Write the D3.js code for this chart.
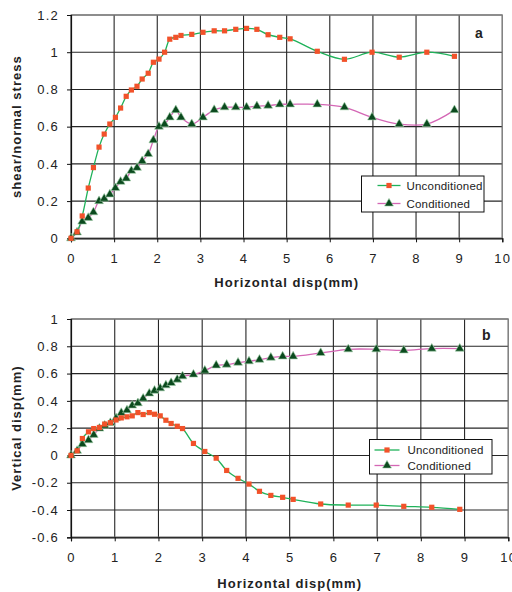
<!DOCTYPE html>
<html>
<head>
<meta charset="utf-8">
<script src="https://cdn.jsdelivr.net/npm/d3@7/dist/d3.min.js"></script>
<style>
  html, body { margin: 0; padding: 0; background: #fff; }
  svg { display: block; font-family: "Liberation Sans", Arial, sans-serif; }
</style>
</head>
<body>
<svg id="fig" width="512" height="592"></svg>
<script>
// Horizontal displacement (mm), shared by all four series
const horizDisp = [0, 0.14, 0.26, 0.40, 0.52, 0.65, 0.77, 0.90, 1.03, 1.15, 1.28, 1.40, 1.53, 1.65, 1.79, 1.91,
  2.04, 2.17, 2.29, 2.43, 2.55, 2.80, 3.06, 3.32, 3.56, 3.82, 4.07, 4.31, 4.57, 4.84, 5.08, 5.71, 6.34,
  6.98, 7.61, 8.25, 8.89];

// Panel a: shear/normal stress ratio
const stressUncond = [0, 0.035, 0.12, 0.27, 0.38, 0.49, 0.56, 0.614, 0.65, 0.70, 0.763, 0.797, 0.817, 0.856,
  0.887, 0.946, 0.963, 1.0, 1.07, 1.08, 1.09, 1.096, 1.107, 1.115, 1.115, 1.123, 1.128, 1.123, 1.094,
  1.08, 1.072, 1.005, 0.962, 1.0, 0.973, 1.0, 0.978];
const stressCond = [0, 0.032, 0.09, 0.11, 0.14, 0.20, 0.213, 0.236, 0.27, 0.304, 0.322, 0.363, 0.379, 0.415,
  0.453, 0.527, 0.60, 0.613, 0.65, 0.689, 0.65, 0.614, 0.65, 0.69, 0.704, 0.704, 0.704, 0.71, 0.713,
  0.72, 0.72, 0.72, 0.704, 0.65, 0.614, 0.614, 0.689];

// Panel b: vertical displacement (mm)
const vertUncond = [0, 0.034, 0.124, 0.173, 0.197, 0.205, 0.23, 0.24, 0.26, 0.275, 0.283, 0.29, 0.314, 0.30,
  0.314, 0.302, 0.29, 0.258, 0.234, 0.214, 0.197, 0.088, 0.029, -0.02, -0.11, -0.168, -0.21, -0.263,
  -0.293, -0.307, -0.322, -0.356, -0.364, -0.364, -0.373, -0.38, -0.395];
const vertCond = [0, 0.034, 0.083, 0.112, 0.151, 0.197, 0.219, 0.238, 0.273, 0.312, 0.331, 0.366, 0.383,
  0.417, 0.454, 0.475, 0.492, 0.514, 0.531, 0.556, 0.58, 0.593, 0.622, 0.66, 0.666, 0.68, 0.69, 0.702,
  0.717, 0.726, 0.726, 0.751, 0.778, 0.778, 0.77, 0.783, 0.783];

// Tick values and labels
const xTicks = [0, 1, 2, 3, 4, 5, 6, 7, 8, 9, 10];
const xTickLabels = ["0", "1", "2", "3", "4", "5", "6", "7", "8", "9", "10"];
const yTicksA = [0, 0.2, 0.4, 0.6, 0.8, 1, 1.2];
const yTickLabelsA = ["0", "0.2", "0.4", "0.6", "0.8", "1", "1.2"];
const yTicksB = [-0.6, -0.4, -0.2, 0, 0.2, 0.4, 0.6, 0.8, 1];
const yTickLabelsB = ["-0.6", "-0.4", "-0.2", "0", "0.2", "0.4", "0.6", "0.8", "1"];

const seriesNames = ["Unconditioned", "Conditioned"];

const COL = {
  uncondLine: "#1fb25a",
  uncondMark: "#f2522a",
  condLine: "#d467b5",
  condMark: "#0b4a1e",
  grid: "#262626",
  frame: "#8a8a8a"
};

const svg = d3.select("#fig");
svg.append("rect").attr("width", 512).attr("height", 592).attr("fill", "#fff");

function panel(opts) {
  const x = d3.scaleLinear().domain([0, 10]).range([opts.left, opts.right]);
  const y = d3.scaleLinear().domain(opts.yDomain).range([opts.bottom, opts.top]);
  const g = svg.append("g");

  // grid
  g.append("g").selectAll("line.v").data(xTicks).join("line")
    .attr("x1", d => x(d)).attr("x2", d => x(d))
    .attr("y1", opts.top).attr("y2", opts.bottom)
    .attr("stroke", COL.grid).attr("stroke-width", 1.1);
  g.append("g").selectAll("line.h").data(opts.yTicks).join("line")
    .attr("x1", opts.left).attr("x2", opts.right)
    .attr("y1", d => y(d)).attr("y2", d => y(d))
    .attr("stroke", COL.grid).attr("stroke-width", 1.1);

  // frame
  g.append("rect")
    .attr("x", opts.left).attr("y", opts.top)
    .attr("width", opts.right - opts.left).attr("height", opts.bottom - opts.top)
    .attr("fill", "none").attr("stroke", COL.frame).attr("stroke-width", 1.2);

  // axes
  const xAxis = d3.axisBottom(x).tickValues(xTicks)
    .tickFormat((d, i) => xTickLabels[i]).tickSize(4).tickPadding(11);
  const ax = g.append("g").attr("transform", `translate(0,${opts.bottom})`).call(xAxis);
  const yAxis = d3.axisLeft(y).tickValues(opts.yTicks)
    .tickFormat((d, i) => opts.yTickLabels[i]).tickSize(4).tickPadding(8);
  const ay = g.append("g").attr("transform", `translate(${opts.left},0)`).call(yAxis);
  [ax, ay].forEach(a => {
    a.select(".domain").attr("stroke", "#111").attr("stroke-width", 1.2);
    a.selectAll(".tick line").attr("stroke", "#111");
    a.selectAll(".tick text").attr("fill", "#222")
      .style("font-size", "13px").style("letter-spacing", "1.2px");
  });

  // axis titles
  g.append("text")
    .attr("x", (opts.left + opts.right) / 2).attr("y", opts.bottom + opts.xTitleGap)
    .attr("text-anchor", "middle").attr("font-weight", "bold")
    .style("font-size", "13px").style("letter-spacing", "1px").attr("fill", "#222")
    .text("Horizontal disp(mm)");
  g.append("text")
    .attr("transform", `translate(21,${(opts.top + opts.bottom) / 2}) rotate(-90)`)
    .attr("text-anchor", "middle").attr("font-weight", "bold")
    .style("font-size", "13px").style("letter-spacing", "1px").attr("fill", "#222")
    .text(opts.yTitle);

  // panel letter
  g.append("text").attr("x", opts.letterX).attr("y", opts.letterY)
    .attr("font-weight", "bold").style("font-size", "14px").attr("fill", "#222")
    .text(opts.letter);

  // series
  const line = d3.line().x(d => x(d[0])).y(d => y(d[1])).curve(d3.curveCatmullRom);
  const uPts = horizDisp.map((h, i) => [h, opts.uncond[i]]);
  const cPts = horizDisp.map((h, i) => [h, opts.cond[i]]);
  g.append("path").attr("d", line(cPts)).attr("fill", "none")
    .attr("stroke", COL.condLine).attr("stroke-width", 1.3);
  g.append("path").attr("d", line(uPts)).attr("fill", "none")
    .attr("stroke", COL.uncondLine).attr("stroke-width", 1.3);

  const tri = d3.symbol().type(d3.symbolTriangle).size(34);
  g.append("g").selectAll("path").data(cPts).join("path")
    .attr("d", tri).attr("transform", d => `translate(${x(d[0])},${y(d[1])})`)
    .attr("fill", COL.condMark).attr("stroke", "#9fcfa8").attr("stroke-width", 0.6);
  g.append("g").selectAll("rect").data(uPts).join("rect")
    .attr("x", d => x(d[0]) - 2.6).attr("y", d => y(d[1]) - 2.6)
    .attr("width", 5.2).attr("height", 5.2).attr("fill", COL.uncondMark);

  // legend
  const L = opts.legend;
  const lg = g.append("g").attr("transform", `translate(${L.x},${L.y})`);
  lg.append("rect").attr("width", L.w).attr("height", L.h)
    .attr("fill", "#fff").attr("stroke", "#111").attr("stroke-width", 1);
  seriesNames.forEach((name, i) => {
    const yy = L.row0 + i * L.gap;
    lg.append("line").attr("x1", L.lx0).attr("x2", L.lx1).attr("y1", yy).attr("y2", yy)
      .attr("stroke", i === 0 ? COL.uncondLine : COL.condLine).attr("stroke-width", 1.3);
    const mx = (L.lx0 + L.lx1) / 2;
    if (i === 0) {
      lg.append("rect").attr("x", mx - 2.6).attr("y", yy - 2.6).attr("width", 5.2).attr("height", 5.2)
        .attr("fill", COL.uncondMark);
    } else {
      lg.append("path").attr("d", tri).attr("transform", `translate(${mx},${yy})`)
        .attr("fill", COL.condMark).attr("stroke", "#9fcfa8").attr("stroke-width", 0.6);
    }
    lg.append("text").attr("x", L.tx).attr("y", yy + 4)
      .style("font-size", "11.5px").style("letter-spacing", "0.2px").attr("fill", "#222")
      .text(name);
  });
}

panel({
  left: 71, right: 502.3, top: 15, bottom: 238.3,
  yDomain: [0, 1.2], yTicks: yTicksA, yTickLabels: yTickLabelsA,
  yTitle: "shear/normal stress", xTitleGap: 49,
  uncond: stressUncond, cond: stressCond,
  letter: "a", letterX: 475, letterY: 38,
  legend: { x: 361.5, y: 176, w: 122.5, h: 36, row0: 9.5, gap: 18, lx0: 16, lx1: 39, tx: 45 }
});

panel({
  left: 71, right: 508.3, top: 319, bottom: 537.3,
  yDomain: [-0.6, 1], yTicks: yTicksB, yTickLabels: yTickLabelsB,
  yTitle: "Vertical disp(mm)", xTitleGap: 51,
  uncond: vertUncond, cond: vertCond,
  letter: "b", letterX: 482, letterY: 340,
  legend: { x: 369.5, y: 439.5, w: 122.5, h: 34.5, row0: 10.5, gap: 15.5, lx0: 5, lx1: 30, tx: 38 }
});
</script>
</body>
</html>
